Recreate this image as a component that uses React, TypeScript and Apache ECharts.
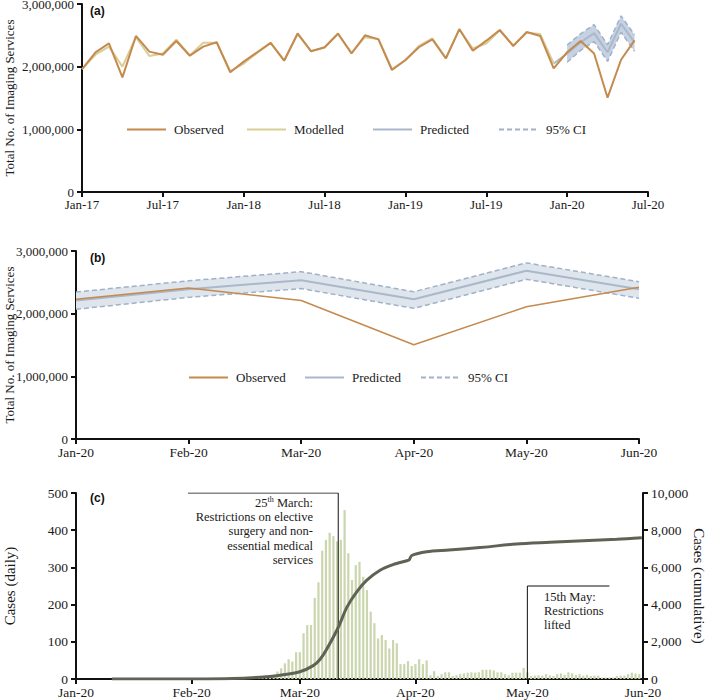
import React, { useEffect, useRef } from "react";
import * as echarts from "echarts";

// ---------- Panel (a) / (b): monthly imaging services ----------
const xTickLabelsA = ["Jan-17", "Jul-17", "Jan-18", "Jul-18", "Jan-19", "Jul-19", "Jan-20", "Jul-20"];
// Jan-17 .. Dec-19
const observedHistory = [
  1958000, 2229000, 2372000, 1830000, 2490000, 2240000, 2190000, 2410000, 2175000, 2320000, 2390000, 1910000,
  2080000, 2230000, 2380000, 2095000, 2530000, 2245000, 2310000, 2530000, 2210000, 2500000, 2436000, 1947000,
  2106000, 2310000, 2436000, 2130000, 2600000, 2255000, 2415000, 2585000, 2330000, 2553000, 2490000, 1974000,
];
// Jan-20 .. Jun-20
const months2020 = ["Jan-20", "Feb-20", "Mar-20", "Apr-20", "May-20", "Jun-20"];
const observed2020 = [2230000, 2410000, 2210000, 1505000, 2110000, 2420000];
// Jan-17 .. Dec-19
const modelled = [
  1960000, 2190000, 2320000, 2000000, 2470000, 2170000, 2210000, 2430000, 2180000, 2380000, 2380000, 1930000,
  2050000, 2220000, 2380000, 2100000, 2520000, 2250000, 2300000, 2520000, 2220000, 2470000, 2440000, 1960000,
  2100000, 2330000, 2450000, 2140000, 2590000, 2290000, 2370000, 2580000, 2340000, 2540000, 2520000, 2050000,
];
const predictedDec19 = 2050000;
const predicted2020 = [2210000, 2390000, 2535000, 2230000, 2685000, 2390000];
const ciLower2020 = [2070000, 2260000, 2400000, 2085000, 2550000, 2245000];
const ciUpper2020 = [2345000, 2525000, 2670000, 2350000, 2810000, 2510000];

// ---------- Panel (c): COVID-19 cases, day 0 = 1 Jan 2020 ----------
const xTickDaysC = [0, 31, 60, 91, 121, 152];
const xTickLabelsC = ["Jan-20", "Feb-20", "Mar-20", "Apr-20", "May-20", "Jun-20"];
const dailyCases = [
  0, 0, 0, 0, 0, 0, 0, 0, 0, 0,
  0, 0, 0, 0, 0, 1, 0, 0, 1, 1, 0, 0, 1, 0, 0, 1, 0, 0, 0, 1, 0, 0, 0, 1, 0, 0, 0, 0, 1, 0, 0, 1, 0, 1,
  1, 1, 2, 2, 3, 3, 4, 6, 8, 12,
  20, 29, 42, 53, 47, 72, 72, 123, 145, 145, 218, 260, 345, 374, 393, 384, 370, 374, 454,
  338, 266, 306, 315, 275, 239, 181, 150, 109, 118, 105, 82, 105, 96, 40, 40, 48, 35, 40, 53, 40, 50,
  10, 21, 8, 13, 18, 18, 8, 10, 13, 15, 17, 18, 17, 18, 25, 25, 25, 23, 18, 18, 13, 10, 17, 17, 17, 30, 18,
  8, 9, 10, 9, 13, 10, 8, 13, 15, 11, 18, 15, 11, 13, 9, 11, 8, 9, 9, 4, 4, 4, 4, 8, 9, 9, 13, 17, 15, 13,
];
const cumulativeDays = [9.6, 30, 42, 51, 54.7, 60, 63.6, 65.4, 67.2, 70.3, 72.6, 75.3, 77.9, 81.5, 85, 88.7, 89.3, 90, 94, 100, 109, 118, 127, 136, 145, 151.7];
const cumulativeCases = [0, 5, 30, 120, 200, 390, 720, 1050, 1600, 2770, 3850, 4700, 5300, 5850, 6150, 6360, 6400, 6640, 6845, 6935, 7080, 7260, 7350, 7435, 7510, 7597];
const restrictionDay = 70.3;
const liftDay = 121;

const SERIF = '"Liberation Serif", "Times New Roman", serif';
const SANS = '"Liberation Sans", Arial, sans-serif';

const C_OBS = "#c48a4e";
const C_MOD = "#d9cd98";
const C_PRED = "#a9b8cb";
const C_CI = "#9fb2c9";
const C_BAND_A = "#c6d1e1";
const C_BAND_B = "#dfe5ec";
const C_BAR = "#c9d6ae";
const C_CUM = "#5f6355";

const fmt = (v: number) => v.toLocaleString("en-US");

function axisBase(fontSize: number) {
  return {
    axisLine: { show: true, onZero: false, lineStyle: { color: "#111", width: 2 } },
    axisTick: { show: true, length: 5, lineStyle: { color: "#111", width: 2 } },
    splitLine: { show: false },
    axisLabel: { color: "#1a1a1a", fontFamily: SERIF, fontSize },
  };
}

function bandSeries(xAxisIndex: number, xs: number[], color: string) {
  return {
    type: "custom",
    name: "band" + xAxisIndex,
    xAxisIndex,
    yAxisIndex: xAxisIndex,
    silent: true,
    z: 1,
    data: xs.map((x, i) => [x, ciLower2020[i], ciUpper2020[i]]),
    encode: { x: 0, y: [1, 2] },
    renderItem: (params: any, api: any) => {
      if (params.dataIndex !== 0) return null;
      const up = xs.map((x, i) => api.coord([x, ciUpper2020[i]]));
      const lo = xs.map((x, i) => api.coord([x, ciLower2020[i]])).reverse();
      return { type: "polygon", shape: { points: up.concat(lo) }, style: { fill: color } };
    },
  };
}

function buildOption() {
  const observedAll = observedHistory.concat(observed2020);
  const off = observedHistory.length; // 36
  const xsA = ciUpper2020.map((_, i) => off + i);
  const xsB = ciUpper2020.map((_, i) => i);

  const legendItem = (name: string, left: number, top: number) => ({
    data: [name],
    left,
    top,
    padding: 0,
    itemWidth: 39,
    itemHeight: 14,
    itemStyle: { opacity: 0, borderWidth: 0 },
    textStyle: { fontFamily: SERIF, fontSize: 13, color: "#1a1a1a", padding: [0, 0, 0, 3] },
  });

  const lineS = (extra: any) => ({
    type: "line",
    symbol: "none",
    showSymbol: false,
    silent: true,
    ...extra,
  });

  const series: any[] = [
    // ----- (a) -----
    bandSeries(0, xsA, C_BAND_A),
    lineS({
      name: "95% CI", xAxisIndex: 0, yAxisIndex: 0,
      data: ciUpper2020.map((v, i) => [xsA[i], v]),
      lineStyle: { color: C_CI, width: 1.5, type: [5, 3] }, itemStyle: { color: C_CI },
    }),
    lineS({
      name: "95% CI", xAxisIndex: 0, yAxisIndex: 0,
      data: ciLower2020.map((v, i) => [xsA[i], v]),
      lineStyle: { color: C_CI, width: 1.5, type: [5, 3] }, itemStyle: { color: C_CI },
    }),
    lineS({
      name: "Predicted", xAxisIndex: 0, yAxisIndex: 0,
      data: [[off - 1, predictedDec19]].concat(predicted2020.map((v, i) => [xsA[i], v])),
      lineStyle: { color: C_PRED, width: 2 }, itemStyle: { color: C_PRED },
    }),
    lineS({
      name: "Modelled", xAxisIndex: 0, yAxisIndex: 0,
      data: modelled.map((v, i) => [i, v]),
      lineStyle: { color: C_MOD, width: 2 }, itemStyle: { color: C_MOD },
    }),
    lineS({
      name: "Observed", xAxisIndex: 0, yAxisIndex: 0,
      data: observedAll.map((v, i) => [i, v]),
      lineStyle: { color: C_OBS, width: 2 }, itemStyle: { color: C_OBS },
    }),
    // ----- (b) -----
    bandSeries(1, xsB, C_BAND_B),
    lineS({
      name: "95% CI", xAxisIndex: 1, yAxisIndex: 1,
      data: ciUpper2020.map((v, i) => [i, v]),
      lineStyle: { color: C_CI, width: 1.5, type: [5, 3] }, itemStyle: { color: C_CI },
    }),
    lineS({
      name: "95% CI", xAxisIndex: 1, yAxisIndex: 1,
      data: ciLower2020.map((v, i) => [i, v]),
      lineStyle: { color: C_CI, width: 1.5, type: [5, 3] }, itemStyle: { color: C_CI },
    }),
    lineS({
      name: "Predicted", xAxisIndex: 1, yAxisIndex: 1,
      data: predicted2020.map((v, i) => [i, v]),
      lineStyle: { color: C_PRED, width: 2 }, itemStyle: { color: C_PRED },
    }),
    lineS({
      name: "Observed", xAxisIndex: 1, yAxisIndex: 1,
      data: observed2020.map((v, i) => [i, v]),
      lineStyle: { color: C_OBS, width: 1.5 }, itemStyle: { color: C_OBS },
    }),
    // ----- (c) -----
    {
      name: "Cases (daily)", type: "bar", xAxisIndex: 2, yAxisIndex: 2, silent: true,
      data: dailyCases.map((v, d) => [d, v]),
      barWidth: 2.2, itemStyle: { color: C_BAR },
    },
    lineS({
      name: "restriction", xAxisIndex: 2, yAxisIndex: 2, z: 3,
      data: [[30, 500], [restrictionDay, 500], [restrictionDay, 0]],
      lineStyle: { color: "#111", width: 1 },
    }),
    lineS({
      name: "lifted", xAxisIndex: 2, yAxisIndex: 2, z: 3,
      data: [[liftDay, 0], [liftDay, 250], [143, 250]],
      lineStyle: { color: "#111", width: 1 },
    }),
    lineS({
      name: "Cases (cumulative)", xAxisIndex: 2, yAxisIndex: 3, z: 4, smooth: 0.3,
      data: cumulativeDays.map((d, i) => [d, cumulativeCases[i]]),
      lineStyle: { color: C_CUM, width: 3 }, itemStyle: { color: C_CUM },
    }),
  ];

  const labelMap = (labels: string[], step: number) => (v: number) => {
    const k = Math.round(v / step);
    return labels[k] ?? "";
  };

  const nameStyle = (size: number) => ({ fontFamily: SERIF, fontSize: size, color: "#1a1a1a" });

  return {
    animation: false,
    textStyle: { fontFamily: SERIF },
    grid: [
      { left: 82, top: 4, width: 566, height: 188, outerBoundsMode: "none" },
      { left: 76, top: 251, width: 563, height: 188, outerBoundsMode: "none" },
      { left: 76, top: 493, width: 567, height: 186, outerBoundsMode: "none" },
    ],
    legend: [
      legendItem("Observed", 126, 123),
      legendItem("Modelled", 246, 123),
      legendItem("Predicted", 372, 123),
      legendItem("95% CI", 498, 123),
      legendItem("Observed", 188, 371),
      legendItem("Predicted", 304, 371),
      legendItem("95% CI", 420, 371),
    ],
    xAxis: [
      {
        type: "value", gridIndex: 0, min: 0, max: 42, interval: 6,
        ...axisBase(13),
        axisLabel: { ...axisBase(13).axisLabel, margin: 6, formatter: labelMap(xTickLabelsA, 6) },
      },
      {
        type: "value", gridIndex: 1, min: 0, max: 5, interval: 1,
        ...axisBase(13.5),
        axisLabel: { ...axisBase(13.5).axisLabel, margin: 6, formatter: labelMap(months2020, 1) },
      },
      {
        type: "value", gridIndex: 2, min: 0, max: 152,
        ...axisBase(13.5),
        axisTick: { ...axisBase(13.5).axisTick, customValues: xTickDaysC },
        axisLabel: {
          ...axisBase(13.5).axisLabel, margin: 6, customValues: xTickDaysC,
          formatter: (v: number) => xTickLabelsC[xTickDaysC.indexOf(Math.round(v))] ?? "",
        },
      },
    ],
    yAxis: [
      {
        type: "value", gridIndex: 0, min: 0, max: 3000000, interval: 1000000,
        ...axisBase(13),
        axisLabel: { ...axisBase(13).axisLabel, formatter: fmt },
        name: "Total No. of Imaging Services", nameLocation: "middle", nameGap: 66, nameMoveOverlap: false,
        nameTextStyle: nameStyle(13),
      },
      {
        type: "value", gridIndex: 1, min: 0, max: 3000000, interval: 1000000,
        ...axisBase(13),
        axisLabel: { ...axisBase(13).axisLabel, formatter: fmt },
        name: "Total No. of Imaging Services", nameLocation: "middle", nameGap: 60, nameMoveOverlap: false,
        nameTextStyle: nameStyle(13),
      },
      {
        type: "value", gridIndex: 2, min: 0, max: 500, interval: 100,
        ...axisBase(13.5),
        axisLabel: { ...axisBase(13.5).axisLabel, formatter: fmt },
        name: "Cases (daily)", nameLocation: "middle", nameGap: 59, nameMoveOverlap: false,
        nameTextStyle: nameStyle(15),
      },
      {
        type: "value", gridIndex: 2, position: "right", min: 0, max: 10000, interval: 2000,
        ...axisBase(13.5),
        axisLabel: { ...axisBase(13.5).axisLabel, formatter: fmt },
        name: "Cases (cumulative)", nameLocation: "middle", nameGap: 48, nameRotate: -90, nameMoveOverlap: false,
        nameTextStyle: nameStyle(15),
      },
    ],
    graphic: [
      { type: "text", x: 90, y: 5, style: { text: "(a)", font: `bold 12px ${SANS}`, fill: "#111" } },
      { type: "text", x: 90, y: 252, style: { text: "(b)", font: `bold 12px ${SANS}`, fill: "#111" } },
      { type: "text", x: 90, y: 492, style: { text: "(c)", font: `bold 12px ${SANS}`, fill: "#111" } },
      {
        type: "text", x: 313, y: 495.5, z: 10,
        style: {
          text: "25{sup|th} March:\nRestrictions on elective\nsurgery and non-\nessential medical\nservices",
          align: "right", verticalAlign: "top", lineHeight: 14.3,
          fontFamily: SERIF, fontSize: 12.5, fill: "#1a1a1a",
          rich: { sup: { fontSize: 8, verticalAlign: "top", lineHeight: 14.3, fontFamily: SERIF, fill: "#1a1a1a" } },
        },
      },
      {
        type: "text", x: 544, y: 589.5, z: 10,
        style: {
          text: "15th May:\nRestrictions\nlifted",
          align: "left", verticalAlign: "top", lineHeight: 14.3,
          fontFamily: SERIF, fontSize: 12.5, fill: "#1a1a1a",
        },
      },
    ],
    series,
  };
}

export default function App() {
  const ref = useRef<HTMLDivElement>(null);
  useEffect(() => {
    if (!ref.current) return;
    const chart = echarts.init(ref.current, undefined, { renderer: "svg" });
    chart.setOption(buildOption() as any);
    return () => chart.dispose();
  }, []);
  return (
    <div
      ref={ref}
      style={{ position: "absolute", left: 0, top: 0, width: 709, height: 700, background: "#fff" }}
    />
  );
}
